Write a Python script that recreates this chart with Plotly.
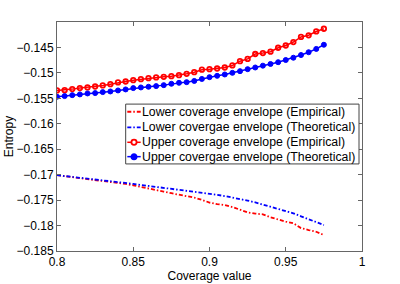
import plotly.graph_objects as go

coverage = [0.800, 0.805, 0.810, 0.815, 0.820, 0.825, 0.830, 0.835, 0.840, 0.845,
            0.850, 0.855, 0.860, 0.865, 0.870, 0.875, 0.880, 0.885, 0.890, 0.895,
            0.900, 0.905, 0.910, 0.915, 0.920, 0.925, 0.930, 0.935, 0.940, 0.945,
            0.950, 0.955, 0.960, 0.965, 0.970, 0.975]

lower_empirical = [-0.17010, -0.17028, -0.17048, -0.17065, -0.17085, -0.17103, -0.17122, -0.17144,
                   -0.17163, -0.17183, -0.17208, -0.17236, -0.17265, -0.17299, -0.17334, -0.17365,
                   -0.17393, -0.17414, -0.17451, -0.17495, -0.17549, -0.17579, -0.17598, -0.17636,
                   -0.17681, -0.17741, -0.17765, -0.17779, -0.17838, -0.17887, -0.17922, -0.17955,
                   -0.18049, -0.18088, -0.18122, -0.18186]

lower_theoretical = [-0.17010, -0.17026, -0.17042, -0.17057, -0.17073, -0.17091, -0.17108, -0.17126,
                     -0.17144, -0.17161, -0.17181, -0.17201, -0.17220, -0.17238, -0.17255, -0.17273,
                     -0.17291, -0.17310, -0.17330, -0.17349, -0.17373, -0.17397, -0.17420, -0.17446,
                     -0.17475, -0.17510, -0.17545, -0.17585, -0.17624, -0.17667, -0.17710, -0.17759,
                     -0.17818, -0.17873, -0.17932, -0.17990]

upper_empirical = [-0.15345, -0.15339, -0.15319, -0.15299, -0.15286, -0.15267, -0.15247, -0.15221,
                   -0.15188, -0.15169, -0.15143, -0.15123, -0.15103, -0.15090, -0.15077, -0.15064,
                   -0.15045, -0.15018, -0.14986, -0.14937, -0.14927, -0.14914, -0.14894, -0.14854,
                   -0.14770, -0.14725, -0.14629, -0.14611, -0.14584, -0.14506, -0.14462, -0.14394,
                   -0.14294, -0.14261, -0.14186, -0.14133]

upper_theoretical = [-0.15469, -0.15456, -0.15437, -0.15423, -0.15404, -0.15397, -0.15378, -0.15365,
                     -0.15345, -0.15325, -0.15299, -0.15286, -0.15273, -0.15260, -0.15241, -0.15214,
                     -0.15195, -0.15182, -0.15158, -0.15119, -0.15084, -0.15058, -0.15031, -0.14999,
                     -0.14966, -0.14927, -0.14894, -0.14858, -0.14825, -0.14790, -0.14747, -0.14702,
                     -0.14649, -0.14594, -0.14529, -0.14447]

series_names = ["Lower coverage envelope (Empirical)",
                "Lower covergae envelope (Theoretical)",
                "Upper coverage envelope (Empirical)",
                "Upper covergae envelope (Theoretical)"]

x_ticks = [0.8, 0.85, 0.9, 0.95, 1.0]
x_tick_labels = ["0.8", "0.85", "0.9", "0.95", "1"]
y_ticks = [-0.185, -0.18, -0.175, -0.17, -0.165, -0.16, -0.155, -0.15, -0.145]
y_tick_labels = ["\u22120.185", "\u22120.18", "\u22120.175", "\u22120.17", "\u22120.165",
                 "\u22120.16", "\u22120.155", "\u22120.15", "\u22120.145"]

RED = "#ff0000"
BLUE = "#0000ff"
FONT = "Liberation Sans, Arial, sans-serif"
DASHDOT = "4px,2px,1.5px,2px"

fig = go.Figure()
fig.add_trace(go.Scatter(x=coverage, y=lower_empirical, mode="lines", name=series_names[0],
                         line=dict(color=RED, width=1.8, dash=DASHDOT)))
fig.add_trace(go.Scatter(x=coverage, y=lower_theoretical, mode="lines", name=series_names[1],
                         line=dict(color=BLUE, width=1.8, dash=DASHDOT)))
fig.add_trace(go.Scatter(x=coverage, y=upper_empirical, mode="lines+markers", name=series_names[2],
                         line=dict(color=RED, width=1.5),
                         marker=dict(symbol="circle-open", size=4.5, color=RED,
                                     line=dict(color=RED, width=1.8))))
fig.add_trace(go.Scatter(x=coverage, y=upper_theoretical, mode="lines+markers", name=series_names[3],
                         line=dict(color=BLUE, width=1.5),
                         marker=dict(symbol="circle", size=5, color=BLUE,
                                     line=dict(color=BLUE, width=1))))

axis_common = dict(showgrid=False, zeroline=False, showline=True, linecolor="#666666",
                   linewidth=1, mirror="ticks", ticks="inside", ticklen=4, automargin=False,
                   tickcolor="#666666", tickfont=dict(family=FONT, size=12, color="#000000"))

fig.update_xaxes(range=[0.8, 1.0], tickvals=x_ticks, ticktext=x_tick_labels,
                 title=dict(text="Coverage value", font=dict(family=FONT, size=12, color="#000"),
                            standoff=0),
                 **axis_common)
fig.update_yaxes(range=[-0.185, -0.14], tickvals=y_ticks, ticktext=y_tick_labels,
                 title=dict(text="Entropy", font=dict(family=FONT, size=12, color="#000"),
                            standoff=0),
                 **axis_common)

# Custom legend box (MATLAB style), in plot-area (paper) coordinates
L_X0, L_X1, L_Y0, L_Y1 = 0.2252, 0.9902, 0.3802, 0.6415
row_y = [0.608, 0.540, 0.4747, 0.412]
samp_x0, samp_x1, samp_xc, text_x = 0.2305, 0.2744, 0.2525, 0.271
styles = [(RED, DASHDOT, None), (BLUE, DASHDOT, None), (RED, "solid", "open"), (BLUE, "solid", "filled")]

shapes = [dict(type="rect", xref="paper", yref="paper", x0=L_X0, x1=L_X1, y0=L_Y0, y1=L_Y1,
               line=dict(color="#444444", width=1), fillcolor="white", layer="above")]
annotations = []
for name, ry, (col, dash, mk) in zip(series_names, row_y, styles):
    shapes.append(dict(type="line", xref="paper", yref="paper", x0=samp_x0, x1=samp_x1,
                       y0=ry, y1=ry, line=dict(color=col, width=1.8 if dash != "solid" else 1.5,
                                               dash=dash), layer="above"))
    if mk:
        rx, rv = 2.6 / 305, 2.6 / 229.6
        shapes.append(dict(type="circle", xref="paper", yref="paper",
                           x0=samp_xc - rx, x1=samp_xc + rx, y0=ry - rv, y1=ry + rv,
                           line=dict(color=col, width=1.8),
                           fillcolor=("white" if mk == "open" else col), layer="above"))
    annotations.append(dict(x=text_x, y=ry, xref="paper", yref="paper", text=name,
                            showarrow=False, xanchor="left", yanchor="middle",
                            font=dict(family=FONT, size=12.3, color="#000")))

fig.update_layout(
    width=400, height=284,
    margin=dict(l=57, r=38, t=22, b=33),
    paper_bgcolor="white", plot_bgcolor="white",
    font=dict(family=FONT, size=12, color="#000"),
    showlegend=False,
    shapes=shapes,
    annotations=annotations,
)

fig.write_html("out.html", config={"displayModeBar": False},
               post_script="document.body.style.margin='0';")
